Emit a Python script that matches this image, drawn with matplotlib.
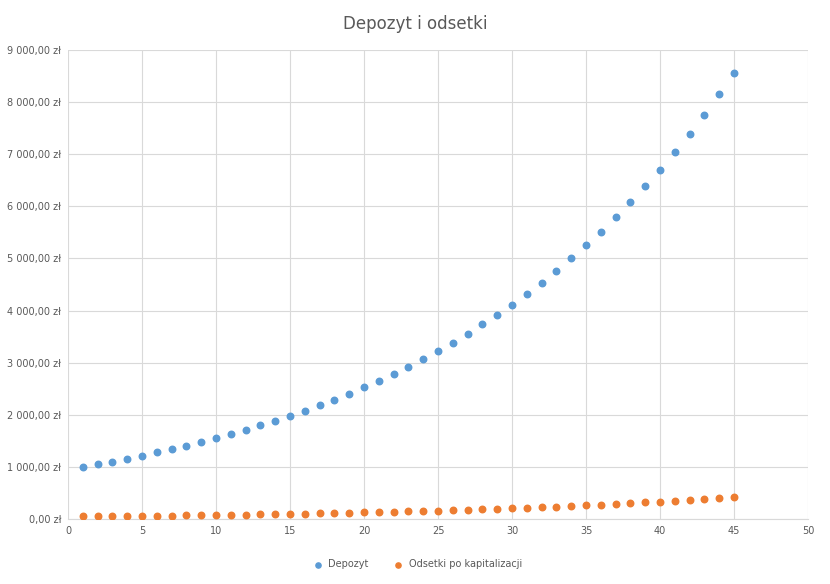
import matplotlib
matplotlib.use("Agg")
import matplotlib.pyplot as plt
from matplotlib.ticker import FuncFormatter

years = list(range(1, 46))
depozyt = [1000,1050,1102.5,1157.6,1215.5,1276.3,1340.1,1407.1,1477.5,1551.3,1628.9,1710.3,1795.9,1885.6,1979.9,2078.9,2182.9,2292.0,2406.6,2527.0,2653.3,2786.0,2925.3,3071.5,3225.1,3386.4,3555.7,3733.5,3920.1,4116.1,4321.9,4538.0,4764.9,5003.2,5253.3,5516.0,5791.8,6081.4,6385.5,6704.8,7040.0,7392.0,7761.6,8149.7,8557.2]
odsetki = [50,52.5,55.1,57.9,60.8,63.8,67.0,70.4,73.9,77.6,81.4,85.5,89.8,94.3,99.0,103.9,109.1,114.6,120.3,126.4,132.7,139.3,146.3,153.6,161.3,169.3,177.8,186.7,196.0,205.8,216.1,226.9,238.2,250.2,262.7,275.8,289.6,304.1,319.3,335.2,352.0,369.6,388.1,407.5,427.9]

fig = plt.figure(figsize=(8.3, 5.84), dpi=100)
ax = fig.add_axes([68/830, 1-519/584, 740/830, 469/584])
ax.scatter(years, depozyt, s=22, color="#5B9BD5", label="Depozyt", zorder=3)
ax.scatter(years, odsetki, s=22, color="#ED7D31", label="Odsetki po kapitalizacji", zorder=3)
ax.set_xlim(0, 50)
ax.set_ylim(0, 9000)
ax.set_xticks(range(0, 51, 5))
ax.set_yticks(range(0, 9001, 1000))
def fmt(v, p):
    s = f"{v:,.2f}".replace(",", " ").replace(".", ",")
    return s + " zł"
ax.yaxis.set_major_formatter(FuncFormatter(fmt))
ax.grid(True, color="#D9D9D9", linewidth=0.8)
ax.set_axisbelow(True)
for s in ["top", "right", "left"]:
    ax.spines[s].set_visible(False)
ax.spines["bottom"].set_color("#D9D9D9")
ax.tick_params(length=0, labelsize=7, colors="#595959", pad=5)
fig.suptitle("Depozyt i odsetki", y=0.975, fontsize=12, color="#595959")
fig.legend(loc="lower center", ncol=2, frameon=False, fontsize=7, labelcolor="#595959",
           bbox_to_anchor=(0.5, 0.01), handletextpad=0.1, markerscale=0.8)
fig.savefig("out.png", dpi=100)
